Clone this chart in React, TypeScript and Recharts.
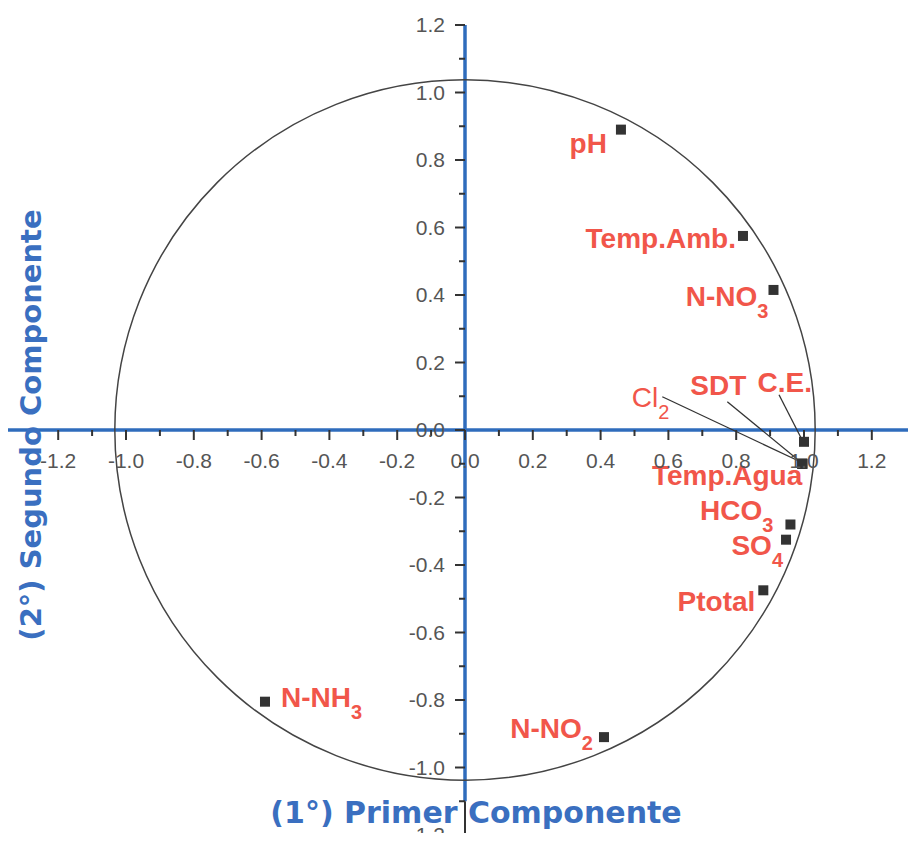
import React from 'react';
import {
    ScatterChart,
    Scatter,
    XAxis,
    YAxis,
    ReferenceLine,
    ReferenceDot,
} from 'recharts';

// variables of the PCA, '_' marks a subscript
const VARIABLES = ['pH', 'Temp.Amb.', 'N-NO_3', 'C.E.', 'SDT', 'Cl_2', 'Temp.Agua', 'HCO_3', 'SO_4', 'Ptotal', 'N-NH_3', 'N-NO_2'];
const PC1 = [0.46, 0.82, 0.91, 1.0, 0.995, 0.995, 0.995, 0.96, 0.947, 0.88, -0.59, 0.41];
const PC2 = [0.89, 0.575, 0.415, -0.035, -0.1, -0.1, -0.1, -0.28, -0.325, -0.475, -0.805, -0.91];

const AXIS_TICKS = [-1.2, -1.1, -1.0, -0.9, -0.8, -0.7, -0.6, -0.5, -0.4, -0.3, -0.2, -0.1, 0.0, 0.1, 0.2, 0.3, 0.4, 0.5, 0.6, 0.7, 0.8, 0.9, 1.0, 1.1, 1.2];
const CIRCLE_R = 1.033;

const X_TITLE = '(1°) Primer Componente';
const Y_TITLE = '(2°) Segundo Componente';

// layout
const W = 916;
const H = 841;
const X0 = 465; // pixel of x = 0
const Y0 = 430; // pixel of y = 0
const SX = 339; // px per unit
const SY = 337.5;
const X_DOMAIN = [-X0 / SX, (W - X0) / SX];
const Y_DOMAIN = [-(H - Y0) / SY, Y0 / SY];

const RED = '#f1564a';
const BLUE = '#2f6cbc';
const TITLE_BLUE = '#3a6fc0';
const TICK_COLOR = '#555';

// label placement relative to each point (px)
const LABEL_STYLE: Record<string, any> = {
    'pH': { dx: -14, dy: 23, anchor: 'end' },
    'Temp.Amb.': { dx: -7, dy: 12, anchor: 'end' },
    'N-NO_3': { dx: -5, dy: 16, anchor: 'end' },
    'C.E.': { dx: 8, dy: -50, anchor: 'end', leader: [-25, -47] },
    'SDT': { dx: -56, dy: -69, anchor: 'end', leader: [-75, -62] },
    'Cl_2': { dx: -133, dy: -57, anchor: 'end', leader: [-140, -67], normal: true },
    'Temp.Agua': { dx: 0, dy: 21, anchor: 'end' },
    'HCO_3': { dx: -17, dy: -5, anchor: 'end' },
    'SO_4': { dx: -3, dy: 15, anchor: 'end' },
    'Ptotal': { dx: -8, dy: 21, anchor: 'end' },
    'N-NH_3': { dx: 16, dy: 5, anchor: 'start' },
    'N-NO_2': { dx: -11, dy: 1, anchor: 'end' },
};

const points = VARIABLES.map((name, i) => ({ name, pc1: PC1[i], pc2: PC2[i] }));

const isMajor = (v: number) => Math.round(v * 10) % 2 === 0;

function PointMark(props: any) {
    const { cx, cy, payload } = props;
    const st = LABEL_STYLE[payload.name] || { dx: 8, dy: 0, anchor: 'start' };
    const [main, sub] = payload.name.split('_');
    return (
        <g>
            {st.leader && (
                <line
                    x1={cx + st.leader[0]}
                    y1={cy + st.leader[1]}
                    x2={cx - 2}
                    y2={cy - 2}
                    stroke="#333"
                    strokeWidth={1.3}
                />
            )}
            <rect x={cx - 5} y={cy - 5} width={10} height={10} fill="#333" />
            <text
                x={cx + st.dx}
                y={cy + st.dy}
                textAnchor={st.anchor}
                fill={RED}
                fontFamily="'Liberation Sans', Arial, sans-serif"
                fontWeight={st.normal ? 'normal' : 'bold'}
                fontSize={28}
            >
                <tspan>{main}</tspan>
                {sub && (
                    <tspan dy={12} fontSize={20}>
                        {sub}
                    </tspan>
                )}
            </text>
        </g>
    );
}

function XTick(props: any) {
    const { x, y, payload } = props;
    const major = isMajor(payload.value);
    return (
        <g>
            <line x1={x} y1={y} x2={x} y2={y + (major ? 10 : 6)} stroke="#333" strokeWidth={2} />
            {major && (
                <text
                    x={x}
                    y={y + 38}
                    textAnchor="middle"
                    fill={TICK_COLOR}
                    fontFamily="'Liberation Sans', Arial, sans-serif"
                    fontSize={21}
                >
                    {payload.value.toFixed(1)}
                </text>
            )}
        </g>
    );
}

function YTick(props: any) {
    const { x, y, payload } = props;
    const major = isMajor(payload.value);
    return (
        <g>
            <line x1={x} y1={y} x2={x - (major ? 10 : 6)} y2={y} stroke="#333" strokeWidth={2} />
            {major && (
                <text
                    x={x - 20}
                    y={y + 7}
                    textAnchor="end"
                    fill={TICK_COLOR}
                    fontFamily="'Liberation Sans', Arial, sans-serif"
                    fontSize={21}
                >
                    {payload.value.toFixed(1)}
                </text>
            )}
        </g>
    );
}

const hiddenShape = () => <g />;

export default function App() {
    return (
        <div style={{ position: 'relative', width: W, height: H, margin: -8, background: '#fff' }}>
            {/* circle, points and the blue cross */}
            <div style={{ position: 'absolute', left: 0, top: 0 }}>
                <ScatterChart width={W} height={H} margin={{ top: 0, right: 0, bottom: 0, left: 0 }}>
                    <XAxis type="number" dataKey="pc1" domain={X_DOMAIN} hide />
                    <YAxis type="number" dataKey="pc2" domain={Y_DOMAIN} hide />
                    <ReferenceDot
                        x={0}
                        y={0}
                        r={CIRCLE_R * SX}
                        fill="none"
                        stroke="#444"
                        strokeWidth={1.5}
                    />
                    <ReferenceLine y={0} stroke={BLUE} strokeWidth={3.5} />
                    <ReferenceLine
                        segment={[{ x: 0, y: 1.2 }, { x: 0, y: -1.1 }]}
                        stroke={BLUE}
                        strokeWidth={3.5}
                    />
                    <ReferenceLine
                        segment={[{ x: 0, y: -1.1 }, { x: 0, y: -1.2 }]}
                        stroke="#333"
                        strokeWidth={2}
                    />
                    <Scatter
                        data={points}
                        isAnimationActive={false}
                        shape={(p: any) => <PointMark {...p} />}
                    />
                </ScatterChart>
            </div>

            {/* horizontal axis through the origin */}
            <div style={{ position: 'absolute', left: 0, top: 0, pointerEvents: 'none' }}>
                <ScatterChart width={W} height={Y0 + 60} margin={{ top: 0, right: 0, bottom: 0, left: 0 }}>
                    <XAxis
                        type="number"
                        dataKey="pc1"
                        domain={X_DOMAIN}
                        allowDataOverflow
                        ticks={AXIS_TICKS}
                        interval={0}
                        height={60}
                        axisLine={false}
                        tickLine={false}
                        tickSize={0}
                        tickMargin={0}
                        tick={<XTick />}
                    />
                    <YAxis type="number" dataKey="pc2" hide />
                    <Scatter data={points} isAnimationActive={false} shape={hiddenShape} />
                </ScatterChart>
            </div>

            {/* vertical axis through the origin */}
            <div style={{ position: 'absolute', left: 0, top: 0, pointerEvents: 'none' }}>
                <ScatterChart width={W} height={H} margin={{ top: 0, right: 0, bottom: 0, left: X0 - 60 }}>
                    <XAxis type="number" dataKey="pc1" hide />
                    <YAxis
                        type="number"
                        dataKey="pc2"
                        domain={Y_DOMAIN}
                        allowDataOverflow
                        ticks={AXIS_TICKS}
                        interval={0}
                        width={60}
                        axisLine={false}
                        tickLine={false}
                        tickSize={0}
                        tickMargin={0}
                        tick={<YTick />}
                    />
                    <Scatter data={points} isAnimationActive={false} shape={hiddenShape} />
                </ScatterChart>
            </div>

            {/* axis titles */}
            <svg width={W} height={H} style={{ position: 'absolute', left: 0, top: 0, pointerEvents: 'none' }}>
                <text
                    x={476}
                    y={823}
                    textAnchor="middle"
                    fill={TITLE_BLUE}
                    fontFamily="'DejaVu Sans', Verdana, sans-serif"
                    fontWeight="bold"
                    fontSize={30}
                >
                    {X_TITLE}
                </text>
                <text
                    x={0}
                    y={0}
                    transform="translate(41, 425) rotate(-90)"
                    textAnchor="middle"
                    fill={TITLE_BLUE}
                    fontFamily="'DejaVu Sans', Verdana, sans-serif"
                    fontWeight="bold"
                    fontSize={29}
                >
                    {Y_TITLE}
                </text>
            </svg>
        </div>
    );
}
